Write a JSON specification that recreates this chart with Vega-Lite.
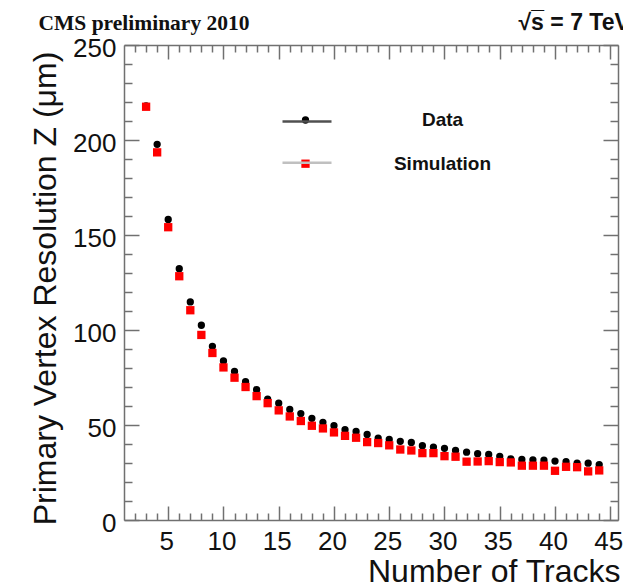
{
  "$schema": "https://vega.github.io/schema/vega-lite/v6.json",
  "width": 494,
  "height": 475,
  "autosize": {"type": "none"},
  "padding": {"left": 124, "top": 45, "right": 5, "bottom": 66},
  "background": "white",
  "config": {
    "view": {"stroke": null},
    "font": "Liberation Sans",
    "axis": {
      "grid": false,
      "tickColor": "#707070",
      "tickWidth": 1.5,
      "domainColor": "#707070",
      "domainWidth": 1.5,
      "labelColor": "#111111",
      "labelFont": "Liberation Sans",
      "titleFont": "Liberation Sans",
      "titleColor": "#111111",
      "titleFontWeight": "normal",
      "labelFlush": false,
      "labelOverlap": false
    }
  },
  "data": {
    "values": [
      {"n": 3, "series": "Data", "res": 218.0},
      {"n": 4, "series": "Data", "res": 197.7},
      {"n": 5, "series": "Data", "res": 158.2},
      {"n": 6, "series": "Data", "res": 132.3},
      {"n": 7, "series": "Data", "res": 114.8},
      {"n": 8, "series": "Data", "res": 102.5},
      {"n": 9, "series": "Data", "res": 91.4},
      {"n": 10, "series": "Data", "res": 83.7},
      {"n": 11, "series": "Data", "res": 78.2},
      {"n": 12, "series": "Data", "res": 72.8},
      {"n": 13, "series": "Data", "res": 68.6},
      {"n": 14, "series": "Data", "res": 63.6},
      {"n": 15, "series": "Data", "res": 61.5},
      {"n": 16, "series": "Data", "res": 58.2},
      {"n": 17, "series": "Data", "res": 56.0},
      {"n": 18, "series": "Data", "res": 53.5},
      {"n": 19, "series": "Data", "res": 51.4},
      {"n": 20, "series": "Data", "res": 49.6},
      {"n": 21, "series": "Data", "res": 47.5},
      {"n": 22, "series": "Data", "res": 46.6},
      {"n": 23, "series": "Data", "res": 45.0},
      {"n": 24, "series": "Data", "res": 43.1},
      {"n": 25, "series": "Data", "res": 42.4},
      {"n": 26, "series": "Data", "res": 41.4},
      {"n": 27, "series": "Data", "res": 40.8},
      {"n": 28, "series": "Data", "res": 39.1},
      {"n": 29, "series": "Data", "res": 38.4},
      {"n": 30, "series": "Data", "res": 37.7},
      {"n": 31, "series": "Data", "res": 36.6},
      {"n": 32, "series": "Data", "res": 35.7},
      {"n": 33, "series": "Data", "res": 34.9},
      {"n": 34, "series": "Data", "res": 34.5},
      {"n": 35, "series": "Data", "res": 33.5},
      {"n": 36, "series": "Data", "res": 32.2},
      {"n": 37, "series": "Data", "res": 31.9},
      {"n": 38, "series": "Data", "res": 31.7},
      {"n": 39, "series": "Data", "res": 31.5},
      {"n": 40, "series": "Data", "res": 31.0},
      {"n": 41, "series": "Data", "res": 30.7},
      {"n": 42, "series": "Data", "res": 29.9},
      {"n": 43, "series": "Data", "res": 29.9},
      {"n": 44, "series": "Data", "res": 29.2},
      {"n": 3, "series": "Simulation", "res": 217.5},
      {"n": 4, "series": "Simulation", "res": 193.5},
      {"n": 5, "series": "Simulation", "res": 154.1},
      {"n": 6, "series": "Simulation", "res": 128.3},
      {"n": 7, "series": "Simulation", "res": 110.4},
      {"n": 8, "series": "Simulation", "res": 97.4},
      {"n": 9, "series": "Simulation", "res": 87.9},
      {"n": 10, "series": "Simulation", "res": 80.3},
      {"n": 11, "series": "Simulation", "res": 74.9},
      {"n": 12, "series": "Simulation", "res": 70.0},
      {"n": 13, "series": "Simulation", "res": 65.2},
      {"n": 14, "series": "Simulation", "res": 61.5},
      {"n": 15, "series": "Simulation", "res": 57.7},
      {"n": 16, "series": "Simulation", "res": 54.5},
      {"n": 17, "series": "Simulation", "res": 52.1},
      {"n": 18, "series": "Simulation", "res": 49.6},
      {"n": 19, "series": "Simulation", "res": 48.2},
      {"n": 20, "series": "Simulation", "res": 46.1},
      {"n": 21, "series": "Simulation", "res": 44.3},
      {"n": 22, "series": "Simulation", "res": 43.3},
      {"n": 23, "series": "Simulation", "res": 41.0},
      {"n": 24, "series": "Simulation", "res": 40.5},
      {"n": 25, "series": "Simulation", "res": 39.3},
      {"n": 26, "series": "Simulation", "res": 37.1},
      {"n": 27, "series": "Simulation", "res": 36.6},
      {"n": 28, "series": "Simulation", "res": 35.2},
      {"n": 29, "series": "Simulation", "res": 35.2},
      {"n": 30, "series": "Simulation", "res": 33.6},
      {"n": 31, "series": "Simulation", "res": 33.3},
      {"n": 32, "series": "Simulation", "res": 30.7},
      {"n": 33, "series": "Simulation", "res": 30.8},
      {"n": 34, "series": "Simulation", "res": 31.0},
      {"n": 35, "series": "Simulation", "res": 30.5},
      {"n": 36, "series": "Simulation", "res": 30.3},
      {"n": 37, "series": "Simulation", "res": 28.6},
      {"n": 38, "series": "Simulation", "res": 28.6},
      {"n": 39, "series": "Simulation", "res": 28.6},
      {"n": 40, "series": "Simulation", "res": 25.9},
      {"n": 41, "series": "Simulation", "res": 28.0},
      {"n": 42, "series": "Simulation", "res": 27.8},
      {"n": 43, "series": "Simulation", "res": 25.6},
      {"n": 44, "series": "Simulation", "res": 26.1}
    ]
  },
  "layer": [
    {
      "mark": {"type": "point", "filled": true, "opacity": 1},
      "encoding": {
        "x": {
          "field": "n", "type": "quantitative",
          "scale": {"domain": [1, 45.7], "nice": false, "zero": false},
          "axis": {
            "orient": "bottom",
            "values": [5, 10, 15, 20, 25, 30, 35, 40, 45],
            "tickSize": -14,
            "labelPadding": 22,
            "labelFontSize": 26,
            "labelOffset": -2,
            "title": "Number of Tracks",
            "titleFontSize": 32,
            "titleAlign": "right",
            "titleBaseline": "alphabetic",
            "titleX": 496,
            "titleY": 61
          }
        },
        "y": {
          "field": "res", "type": "quantitative",
          "scale": {"domain": [0, 250], "nice": false},
          "axis": {
            "orient": "left",
            "values": [0, 50, 100, 150, 200, 250],
            "tickSize": -15,
            "labelPadding": 23,
            "labelFontSize": 26,
            "labelOffset": 3,
            "title": "Primary Vertex Resolution Z (μm)",
            "titleFontSize": 32,
            "titleAngle": -90,
            "titleAlign": "center",
            "titleBaseline": "alphabetic",
            "titleX": -69,
            "titleY": 243
          }
        },
        "color": {
          "field": "series", "type": "nominal",
          "scale": {"domain": ["Data", "Simulation"], "range": ["#000000", "#ff0000"]},
          "legend": {
            "orient": "none", "legendX": 172, "legendY": 65.5, "title": null,
            "padding": 0, "rowPadding": 23.7, "labelOffset": 127.5,
            "labelAlign": "center", "labelFont": "Liberation Sans", "labelFontWeight": "bold",
            "labelFontSize": 19, "labelColor": "#111111", "symbolOpacity": 1
          }
        },
        "shape": {
          "field": "series", "type": "nominal",
          "scale": {"domain": ["Data", "Simulation"], "range": ["circle", "square"]},
          "legend": {
            "orient": "none", "legendX": 172, "legendY": 65.5, "title": null,
            "padding": 0, "rowPadding": 23.7, "labelOffset": 127.5,
            "labelAlign": "center", "labelFont": "Liberation Sans", "labelFontWeight": "bold",
            "labelFontSize": 19, "labelColor": "#111111", "symbolOpacity": 1
          }
        },
        "size": {
          "field": "series", "type": "nominal",
          "scale": {"domain": ["Data", "Simulation"], "range": [53, 69]},
          "legend": {
            "orient": "none", "legendX": 172, "legendY": 65.5, "title": null,
            "padding": 0, "rowPadding": 23.7, "labelOffset": 127.5,
            "labelAlign": "center", "labelFont": "Liberation Sans", "labelFontWeight": "bold",
            "labelFontSize": 19, "labelColor": "#111111", "symbolOpacity": 1
          }
        }
      }
    },
    {
      "mark": {"type": "point", "filled": false, "opacity": 0},
      "encoding": {
        "x": {
          "field": "n", "type": "quantitative",
          "scale": {"domain": [1, 45.7], "nice": false, "zero": false},
          "axis": {
            "orient": "bottom",
            "values": [2, 3, 4, 6, 7, 8, 9, 11, 12, 13, 14, 16, 17, 18, 19, 21, 22, 23, 24, 26, 27, 28, 29, 31, 32, 33, 34, 36, 37, 38, 39, 41, 42, 43, 44],
            "tickSize": -7, "labels": false, "domain": false, "title": null
          }
        },
        "y": {
          "field": "res", "type": "quantitative",
          "scale": {"domain": [0, 250], "nice": false},
          "axis": {
            "orient": "left",
            "values": [10, 20, 30, 40, 60, 70, 80, 90, 110, 120, 130, 140, 160, 170, 180, 190, 210, 220, 230, 240],
            "tickSize": -8, "labels": false, "domain": false, "title": null
          }
        },
        "stroke": {
          "field": "series", "type": "nominal",
          "scale": {"range": ["#505050", "#c0c0c0"]},
          "legend": {
            "orient": "none", "legendX": 157, "legendY": 50.5, "title": null,
            "padding": 0, "rowPadding": 10.3, "symbolType": "stroke", "symbolSize": 2401,
            "symbolStrokeWidth": 2.5, "symbolOpacity": 1, "labelOpacity": 0, "labelFontSize": 1
          }
        }
      }
    },
    {
      "mark": {"type": "point", "filled": true, "opacity": 0},
      "encoding": {
        "x": {
          "field": "n", "type": "quantitative",
          "scale": {"domain": [1, 45.7], "nice": false, "zero": false},
          "axis": {
            "orient": "top",
            "values": [5, 10, 15, 20, 25, 30, 35, 40, 45],
            "tickSize": -14, "labels": false,
            "title": "CMS preliminary 2010",
            "titleFont": "Liberation Serif",
            "titleFontWeight": "bold",
            "titleFontSize": 21.5,
            "titleAlign": "left",
            "titleBaseline": "alphabetic",
            "titleX": -86,
            "titleY": -16
          }
        },
        "y": {
          "field": "res", "type": "quantitative",
          "scale": {"domain": [0, 250], "nice": false},
          "axis": {
            "orient": "right",
            "values": [0, 50, 100, 150, 200, 250],
            "tickSize": -15, "labels": false, "title": null
          }
        }
      }
    },
    {
      "mark": {"type": "point", "filled": true, "opacity": 0},
      "encoding": {
        "x": {
          "field": "n", "type": "quantitative",
          "scale": {"domain": [1, 45.7], "nice": false, "zero": false},
          "axis": {
            "orient": "top",
            "values": [2, 3, 4, 6, 7, 8, 9, 11, 12, 13, 14, 16, 17, 18, 19, 21, 22, 23, 24, 26, 27, 28, 29, 31, 32, 33, 34, 36, 37, 38, 39, 41, 42, 43, 44],
            "tickSize": -7, "labels": false, "domain": false,
            "title": "√s̅ = 7 TeV",
            "titleFont": "Liberation Sans",
            "titleFontWeight": "bold",
            "titleFontSize": 23,
            "titleAlign": "left",
            "titleBaseline": "alphabetic",
            "titleX": 394,
            "titleY": -16
          }
        },
        "y": {
          "field": "res", "type": "quantitative",
          "scale": {"domain": [0, 250], "nice": false},
          "axis": {
            "orient": "right",
            "values": [10, 20, 30, 40, 60, 70, 80, 90, 110, 120, 130, 140, 160, 170, 180, 190, 210, 220, 230, 240],
            "tickSize": -8, "labels": false, "domain": false, "title": null
          }
        }
      }
    }
  ],
  "resolve": {"axis": {"x": "independent", "y": "independent"}}
}
